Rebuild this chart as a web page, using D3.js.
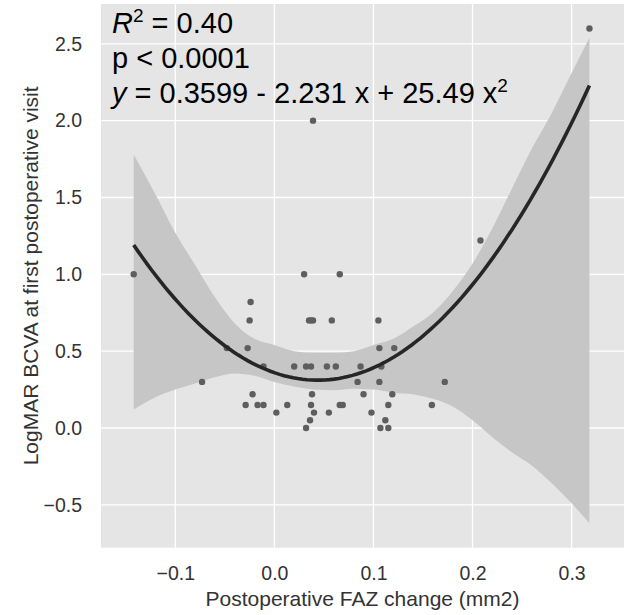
<!DOCTYPE html>
<html>
<head>
<meta charset="utf-8">
<script src="https://cdn.jsdelivr.net/npm/d3@7"></script>
<style>
  body { margin: 0; background: #fff; }
  text { font-family: "Liberation Sans", Arial, sans-serif; }
</style>
</head>
<body>
<svg id="chart" width="624" height="615"></svg>
<script>
// scatter: FAZ change vs LogMAR BCVA
var xVals = [-0.142, -0.073, -0.048, -0.029, -0.027, -0.025, -0.024, -0.022, -0.017, -0.011,
             -0.011, 0.002, 0.013, 0.020, 0.030, 0.032, 0.032, 0.036, 0.035, 0.037,
             0.039, 0.037, 0.037, 0.038, 0.039, 0.040, 0.053, 0.055, 0.058, 0.062,
             0.066, 0.066, 0.069, 0.084, 0.087, 0.090, 0.098, 0.105, 0.106, 0.106,
             0.107, 0.108, 0.112, 0.115, 0.115, 0.119, 0.121, 0.159, 0.172, 0.208, 0.318];
var yVals = [1.00, 0.30, 0.52, 0.15, 0.52, 0.70, 0.82, 0.22, 0.15, 0.15,
             0.40, 0.10, 0.15, 0.40, 1.00, 0.40, 0.00, 0.05, 0.70, 0.70,
             0.70, 0.40, 0.15, 0.22, 2.00, 0.10, 0.40, 0.10, 0.70, 0.40,
             1.00, 0.15, 0.15, 0.30, 0.40, 0.22, 0.10, 0.70, 0.52, 0.30,
             0.00, 0.40, 0.05, 0.15, 0.00, 0.22, 0.52, 0.15, 0.30, 1.22, 2.60];

// quadratic fit shown in the chart: y = c0 + c1 x + c2 x^2
var coef = [0.3599, -2.231, 25.49];

// confidence band
var bandX    = [-0.142, -0.12, -0.10, -0.08, -0.06, -0.04, -0.02, 0.0, 0.02, 0.04, 0.06, 0.08,
                0.10, 0.12, 0.14, 0.16, 0.18, 0.20, 0.22, 0.24, 0.26, 0.28, 0.30, 0.318];
var bandHigh = [1.78, 1.52, 1.27, 1.06, 0.85, 0.68, 0.58, 0.54, 0.50, 0.49, 0.49, 0.50,
                0.54, 0.58, 0.66, 0.75, 0.89, 1.07, 1.30, 1.56, 1.82, 2.05, 2.31, 2.54];
var bandLow  = [0.12, 0.20, 0.25, 0.29, 0.33, 0.355, 0.34, 0.30, 0.27, 0.25, 0.245, 0.255,
                0.25, 0.23, 0.22, 0.19, 0.14, 0.05, -0.06, -0.16, -0.245, -0.36, -0.49, -0.62];

var xTicks = [-0.1, 0.0, 0.1, 0.2, 0.3];
var yTicks = [-0.5, 0.0, 0.5, 1.0, 1.5, 2.0, 2.5];

var svg = d3.select("#chart");

var pLeft = 101, pRight = 624, pTop = 4, pBottom = 547.7;

var x = d3.scaleLinear().domain([-0.175, 0.3529]).range([pLeft, pRight]);
var y = d3.scaleLinear().domain([-0.779, 2.759]).range([pBottom, pTop]);

// panel
svg.append("rect")
    .attr("x", pLeft).attr("y", pTop)
    .attr("width", pRight - pLeft).attr("height", pBottom - pTop)
    .attr("fill", "#e5e5e5");

// grid
svg.append("g").selectAll("line")
    .data(xTicks)
  .enter().append("line")
    .attr("x1", function(d) { return x(d); })
    .attr("x2", function(d) { return x(d); })
    .attr("y1", pTop).attr("y2", pBottom)
    .attr("stroke", "#fff").attr("stroke-width", 1.3);

svg.append("g").selectAll("line")
    .data(yTicks)
  .enter().append("line")
    .attr("y1", function(d) { return y(d); })
    .attr("y2", function(d) { return y(d); })
    .attr("x1", pLeft).attr("x2", pRight)
    .attr("stroke", "#fff").attr("stroke-width", 1.3);

// axes (labels only, no spines)
var fmt = d3.format(".1f");
var xAxis = svg.append("g")
    .attr("transform", "translate(0," + pBottom + ")")
    .call(d3.axisBottom(x).tickValues(xTicks).tickFormat(fmt).tickSize(0).tickPadding(18));
var yAxis = svg.append("g")
    .attr("transform", "translate(" + pLeft + ",0)")
    .call(d3.axisLeft(y).tickValues(yTicks).tickFormat(fmt).tickSize(0).tickPadding(19));

[xAxis, yAxis].forEach(function(a) {
  a.select(".domain").remove();
  a.selectAll("text")
    .attr("fill", "#333")
    .style("font-size", "19.5px")
    .style("font-family", "'Liberation Sans', Arial, sans-serif");
});

// confidence band
var band = bandX.map(function(d, i) { return { x: d, lo: bandLow[i], hi: bandHigh[i] }; });
var area = d3.area()
    .x(function(d) { return x(d.x); })
    .y0(function(d) { return y(d.lo); })
    .y1(function(d) { return y(d.hi); })
    .curve(d3.curveMonotoneX);

svg.append("path")
    .datum(band)
    .attr("d", area)
    .attr("fill", "#c6c6c6");

// points
var pts = xVals.map(function(d, i) { return { x: d, y: yVals[i] }; });
svg.append("g").selectAll("circle")
    .data(pts)
  .enter().append("circle")
    .attr("cx", function(d) { return x(d.x); })
    .attr("cy", function(d) { return y(d.y); })
    .attr("r", 3.2)
    .attr("fill", "#5e5e5e");

// fitted curve
var xs = d3.extent(xVals);
var fitPts = d3.range(0, 101).map(function(i) {
  var v = xs[0] + (xs[1] - xs[0]) * i / 100;
  return { x: v, y: coef[0] + coef[1] * v + coef[2] * v * v };
});
var line = d3.line()
    .x(function(d) { return x(d.x); })
    .y(function(d) { return y(d.y); });

svg.append("path")
    .datum(fitPts)
    .attr("d", line)
    .attr("fill", "none")
    .attr("stroke", "#262626")
    .attr("stroke-width", 3.6);

// axis titles
svg.append("text")
    .attr("x", (pLeft + pRight) / 2).attr("y", 606)
    .attr("text-anchor", "middle")
    .attr("fill", "#333")
    .style("font-size", "21px")
    .text("Postoperative FAZ change (mm2)");

svg.append("text")
    .attr("transform", "translate(38," + (pTop + pBottom) / 2 + ") rotate(-90)")
    .attr("text-anchor", "middle")
    .attr("fill", "#333")
    .style("font-size", "21px")
    .text("LogMAR BCVA at first postoperative visit");

// annotation
var ann = svg.append("g").style("font-size", "29px").attr("fill", "#000");

var t1 = ann.append("text").attr("x", 112).attr("y", 33);
t1.append("tspan").style("font-style", "italic").text("R");
t1.append("tspan").attr("dy", -11).style("font-size", "19px").text("2");
t1.append("tspan").attr("dy", 11).text(" = 0.40");

ann.append("text").attr("x", 112).attr("y", 68).text("p < 0.0001");

var t3 = ann.append("text").attr("x", 112).attr("y", 103);
t3.append("tspan").style("font-style", "italic").text("y");
t3.append("tspan").text(" = 0.3599 - 2.231 x + 25.49 x");
t3.append("tspan").attr("dy", -11).style("font-size", "19px").text("2");
</script>
</body>
</html>
